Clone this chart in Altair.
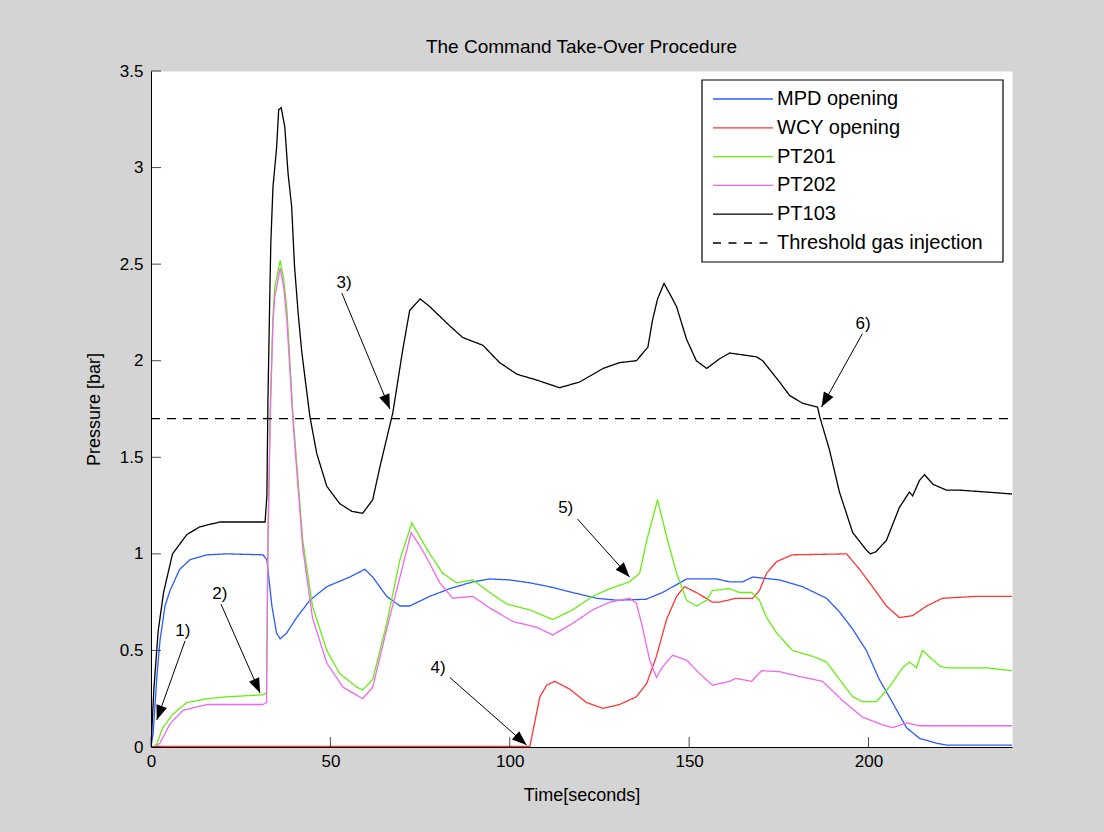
import altair as alt
import pandas as pd
import numpy as np

FONT = "Liberation Sans"
W, H = 861, 676

chart_title = "The Command Take-Over Procedure"
x_title = "Time[seconds]"
y_title = "Pressure [bar]"
x_ticks = [0, 50, 100, 150, 200]
y_ticks = [0, 0.5, 1, 1.5, 2, 2.5, 3, 3.5]

series_names = ["MPD opening", "WCY opening", "PT201", "PT202", "PT103", "Threshold gas injection"]
series_colors = ["#2a5bff", "#ff3535", "#66ee11", "#f066f0", "#000000", "#000000"]

mpd_t = [0, 0.6, 1.7, 2.5, 3.9, 5.3, 8, 10.9, 15.6, 21.2, 31.2, 32.3, 33.7, 35, 36, 37.8, 40.6, 44.3, 49, 55.4,
         59.6, 61.8, 65.7, 69.4, 72.1, 77.7, 83.3, 89.7, 94.4, 100, 105.6, 111, 117.5, 124.2, 129.8, 138, 142.6,
         147.4, 149.3, 157.7, 161.3, 164.9, 167.7, 175.2, 181.6, 188.3, 191.9, 195.6, 199.4, 203, 206.7, 210.6,
         214.2, 218.9, 221.7, 240]
mpd_v = [0, 0.07, 0.38, 0.55, 0.73, 0.81, 0.92, 0.97, 0.995, 1.0, 0.995, 0.97, 0.73, 0.59, 0.56, 0.59, 0.67, 0.76,
         0.83, 0.88, 0.92, 0.88, 0.78, 0.73, 0.73, 0.78, 0.82, 0.855, 0.87, 0.865, 0.85, 0.83, 0.80, 0.77, 0.76,
         0.765, 0.80, 0.85, 0.87, 0.87, 0.855, 0.855, 0.88, 0.865, 0.83, 0.77, 0.70, 0.61, 0.50, 0.35, 0.23, 0.10,
         0.045, 0.02, 0.01, 0.01]

wcy_t = [0, 105.6, 108.4, 110.3, 112.5, 116.7, 121.4, 126, 130.6, 135.3, 138.2, 140.9, 143.7, 146.5, 148.7, 152,
         156.5, 158.5, 163, 167.7, 169.6, 171.6, 174.4, 178.8, 193.9, 197.5, 201.1, 205, 208.6, 212.3, 216.2,
         220.6, 230, 240]
wcy_v = [0.003, 0.003, 0.26, 0.32, 0.34, 0.30, 0.23, 0.20, 0.22, 0.26, 0.33, 0.47, 0.66, 0.78, 0.83, 0.80, 0.75,
         0.75, 0.77, 0.77, 0.81, 0.90, 0.96, 0.995, 1.0, 0.92, 0.83, 0.73, 0.67, 0.68, 0.73, 0.77, 0.78, 0.78]

pt201_t = [0, 0.8, 1.7, 3.3, 6.1, 10, 15.6, 21.2, 31.2, 32.2, 32.6, 33.3, 34, 34.5, 36, 37, 37.9, 39.6, 42.3, 45,
           49, 52.6, 57.4, 59, 61.8, 65.7, 69.4, 72.7, 75.8, 77.7, 81.3, 85.2, 89.7, 94.4, 99.2, 105.6, 112, 117.5,
           123.1, 127.9, 133.4, 136.2, 138.2, 141.2, 144, 146.5, 149.3, 152, 154.9, 156.5, 161.3, 164, 167.4,
           169.6, 171.6, 174.4, 178.8, 184.4, 188.3, 191.9, 195.6, 198.3, 202.2, 205.8, 209.5, 211.4, 213.4, 215,
           219.8, 221.7, 232.9, 240]
pt201_v = [0, 0, 0.02, 0.10, 0.17, 0.23, 0.25, 0.26, 0.27, 0.28, 1.11, 1.8, 2.23, 2.38, 2.52, 2.42, 2.26, 1.71,
           1.07, 0.73, 0.50, 0.38, 0.31, 0.295, 0.35, 0.64, 0.97, 1.16, 1.06, 1.0, 0.90, 0.85, 0.865, 0.80, 0.74,
           0.71, 0.66, 0.71, 0.78, 0.82, 0.855, 0.90, 1.07, 1.28, 1.07, 0.90, 0.76, 0.73, 0.76, 0.81, 0.82, 0.80,
           0.80, 0.76, 0.67, 0.59, 0.50, 0.47, 0.44, 0.35, 0.26, 0.235, 0.235, 0.31, 0.41, 0.44, 0.41, 0.50, 0.42,
           0.41, 0.41, 0.395]

pt202_t = [0, 1, 2.5, 5.3, 8.9, 15.6, 31.2, 32.2, 32.6, 33.3, 34, 34.5, 36, 37, 37.9, 39.6, 42.3, 45, 49, 53.5,
           59, 61.8, 65.7, 71.3, 72.5, 75, 77.7, 80.5, 84.1, 89.7, 94.4, 100.8, 107.5, 112, 117.5, 123.1, 127.9,
           133.4, 135.3, 137, 139, 140.9, 142.6, 145.4, 149.3, 152.9, 156.5, 161.3, 163, 167.4, 170.2, 175.2,
           180.8, 187.2, 192.8, 198.3, 203.9, 206.7, 210.6, 214.2, 240]
pt202_v = [0, 0, 0.02, 0.12, 0.19, 0.22, 0.22, 0.23, 1.05, 1.75, 2.2, 2.33, 2.48, 2.38, 2.2, 1.68, 1.03, 0.67,
           0.435, 0.31, 0.25, 0.31, 0.61, 1.02, 1.11, 1.04, 0.95, 0.85, 0.77, 0.78, 0.72, 0.65, 0.62, 0.58, 0.64,
           0.71, 0.75, 0.77, 0.745, 0.62, 0.45, 0.36, 0.415, 0.475, 0.45, 0.38, 0.32, 0.34, 0.355, 0.34, 0.395,
           0.39, 0.365, 0.34, 0.24, 0.155, 0.115, 0.10, 0.125, 0.11, 0.11]

pt103_t = [0, 0.8, 2, 3.5, 6, 8, 10, 13.6, 19.2, 31.8, 32.3, 32.6, 33.1, 33.4, 34, 35, 35.6, 36.3, 37.3, 38.2,
           39.2, 40, 41, 42, 43, 44.3, 46.2, 49, 52.6, 56, 59, 61.8, 63.8, 67.4, 70.2, 72.1, 75, 77.7, 83.3, 86.9,
           92.5, 97.2, 102, 107.5, 113.9, 119.5, 126, 130.6, 135.3, 138.5, 139.8, 141.2, 143, 144.5, 146.5, 149.3,
           152, 154.9, 158.5, 161.3, 165, 168.8, 170.5, 175.2, 178, 181.6, 185.8, 186.4, 189.1, 191.9, 195.6,
           199.4, 200.5, 202, 205, 208.6, 211.4, 212.3, 214.2, 215.6, 218, 221.7, 225.3, 232.9, 240]
pt103_v = [0, 0.3, 0.6, 0.8, 1.0, 1.05, 1.1, 1.14, 1.165, 1.165, 1.3, 1.8, 2.32, 2.61, 2.9, 3.1, 3.3, 3.31, 3.21,
           2.97, 2.8, 2.49, 2.25, 2.05, 1.9, 1.71, 1.52, 1.35, 1.26, 1.22, 1.21, 1.28, 1.45, 1.73, 2.06, 2.26, 2.32,
           2.28, 2.18, 2.12, 2.08, 1.99, 1.93, 1.90, 1.86, 1.89, 1.96, 1.99, 2.0, 2.07, 2.21, 2.32, 2.40, 2.35,
           2.28, 2.11, 2.0, 1.96, 2.01, 2.04, 2.03, 2.02, 2.0, 1.89, 1.82, 1.78, 1.76, 1.71, 1.54, 1.32, 1.11,
           1.02, 1.0, 1.01, 1.07, 1.24, 1.32, 1.30, 1.38, 1.41, 1.36, 1.33, 1.33, 1.32, 1.31]

thr_t = [0, 240]
thr_v = [1.7, 1.7]

ann_labels = ["1)", "2)", "3)", "4)", "5)", "6)"]
ann_text_t = [8.9, 19.2, 53.8, 80, 115.6, 198.5]
ann_text_v = [0.60, 0.79, 2.40, 0.41, 1.24, 2.19]
arrow_t0 = [9.5, 19.5, 53.2, 83.3, 118.9, 198.3]
arrow_v0 = [0.55, 0.74, 2.35, 0.36, 1.18, 2.14]
arrow_t1 = [1.6, 30.4, 66.6, 104.7, 133.4, 186.9]
arrow_v1 = [0.14, 0.28, 1.75, 0.01, 0.88, 1.76]

X_DOMAIN = [0, 240]
Y_DOMAIN = [0, 3.5]

x_axis = alt.Axis(values=x_ticks, ticks=False, tickSize=0, grid=False, domainColor="black", domainWidth=1,
                  labelFont=FONT, labelFontSize=17, labelColor="black", labelPadding=6, labelFlush=False,
                  labelOverlap=False, format="d", titleFont=FONT, titleFontSize=18, titleFontWeight="normal",
                  titleColor="black", titlePadding=17)
y_axis = alt.Axis(values=y_ticks, ticks=False, tickSize=0, grid=False, domainColor="black", domainWidth=1,
                  labelFont=FONT, labelFontSize=17, labelColor="black", labelPadding=8, labelFlush=False,
                  labelOverlap=False, format="~g", titleFont=FONT, titleFontSize=18, titleFontWeight="normal",
                  titleColor="black", titlePadding=16)


def X(field):
    return alt.X(f"{field}:Q", scale=alt.Scale(domain=X_DOMAIN, nice=False, zero=False), axis=x_axis,
                 title=x_title)


def Y(field):
    return alt.Y(f"{field}:Q", scale=alt.Scale(domain=Y_DOMAIN, nice=False, zero=False), axis=y_axis,
                 title=y_title)


series_data = [(mpd_t, mpd_v), (wcy_t, wcy_v), (pt201_t, pt201_v), (pt202_t, pt202_v), (pt103_t, pt103_v),
               (thr_t, thr_v)]

layers = []
for i, (ts, vs) in enumerate(series_data):
    df = pd.DataFrame({"t": ts, "v": vs})
    dash = [9, 7] if i == 5 else [1, 0]
    layers.append(
        alt.Chart(df).mark_line(color=series_colors[i], strokeWidth=1.3, strokeDash=dash, clip=True)
        .encode(x=X("t"), y=Y("v"))
    )

# inward ticks
layers.append(
    alt.Chart(pd.DataFrame({"t": x_ticks})).mark_tick(orient="vertical", size=10, thickness=1, color="black")
    .encode(x=X("t"), y=alt.value(H - 5))
)
layers.append(
    alt.Chart(pd.DataFrame({"v": y_ticks})).mark_tick(orient="horizontal", size=10, thickness=1, color="black")
    .encode(y=Y("v"), x=alt.value(5))
)

# annotations
sx = W / (X_DOMAIN[1] - X_DOMAIN[0])
sy = H / (Y_DOMAIN[1] - Y_DOMAIN[0])
ang = []
for a, b, c, d in zip(arrow_t0, arrow_v0, arrow_t1, arrow_v1):
    dx = (c - a) * sx
    dy = -(d - b) * sy
    ang.append(float(np.degrees(np.arctan2(dx, -dy)) % 360))
ann = pd.DataFrame({"label": ann_labels, "lt": ann_text_t, "lv": ann_text_v,
                    "t0": arrow_t0, "v0": arrow_v0, "t1": arrow_t1, "v1": arrow_v1, "ang": ang})
layers.append(
    alt.Chart(ann).mark_rule(color="black", strokeWidth=1)
    .encode(x=X("t0"), y=Y("v0"), x2="t1", y2="v1")
)
layers.append(
    alt.Chart(ann).mark_point(shape="M0,0L0.6,1.6L-0.6,1.6Z", filled=True, size=340, color="black", opacity=1)
    .encode(x=X("t1"), y=Y("v1"), angle=alt.Angle("ang:Q", scale=None))
)
layers.append(
    alt.Chart(ann).mark_text(font=FONT, fontSize=17, color="black")
    .encode(x=X("lt"), y=Y("lv"), text="label:N")
)

# legend box
one = alt.Data(values=[{"k": 1}])
LX0, LX1, LY0, LY1 = 551, 852, 9, 191
layers.append(
    alt.Chart(one).mark_rect(fill="white", stroke="black", strokeWidth=1.2)
    .encode(x=alt.value(LX0), x2=alt.value(LX1), y=alt.value(LY0), y2=alt.value(LY1))
)
for i, name in enumerate(series_names):
    yy = 28 + 28.8 * i
    dash = [8, 7.5] if i == 5 else [1, 0]
    layers.append(
        alt.Chart(one).mark_rule(color=series_colors[i], strokeWidth=1.3, strokeDash=dash)
        .encode(x=alt.value(LX0 + 11), x2=alt.value(LX0 + 71), y=alt.value(yy), y2=alt.value(yy))
    )
    layers.append(
        alt.Chart(one).mark_text(font=FONT, fontSize=20, color="black", align="left", baseline="middle")
        .encode(x=alt.value(LX0 + 75), y=alt.value(yy), text=alt.value(name))
    )

chart = (
    alt.layer(*layers)
    .properties(
        width=W, height=H,
        title=alt.TitleParams(chart_title, font=FONT, fontSize=19, fontWeight="normal", color="black", offset=5),
        padding={"left": 151, "top": 71, "right": 92, "bottom": 85},
        autosize=alt.AutoSizeParams(type="none"),
        background="#d4d4d4",
    )
    .configure_view(fill="white", stroke="transparent")
)

chart.save("out.html", embed_options={"renderer": "svg", "actions": False})
